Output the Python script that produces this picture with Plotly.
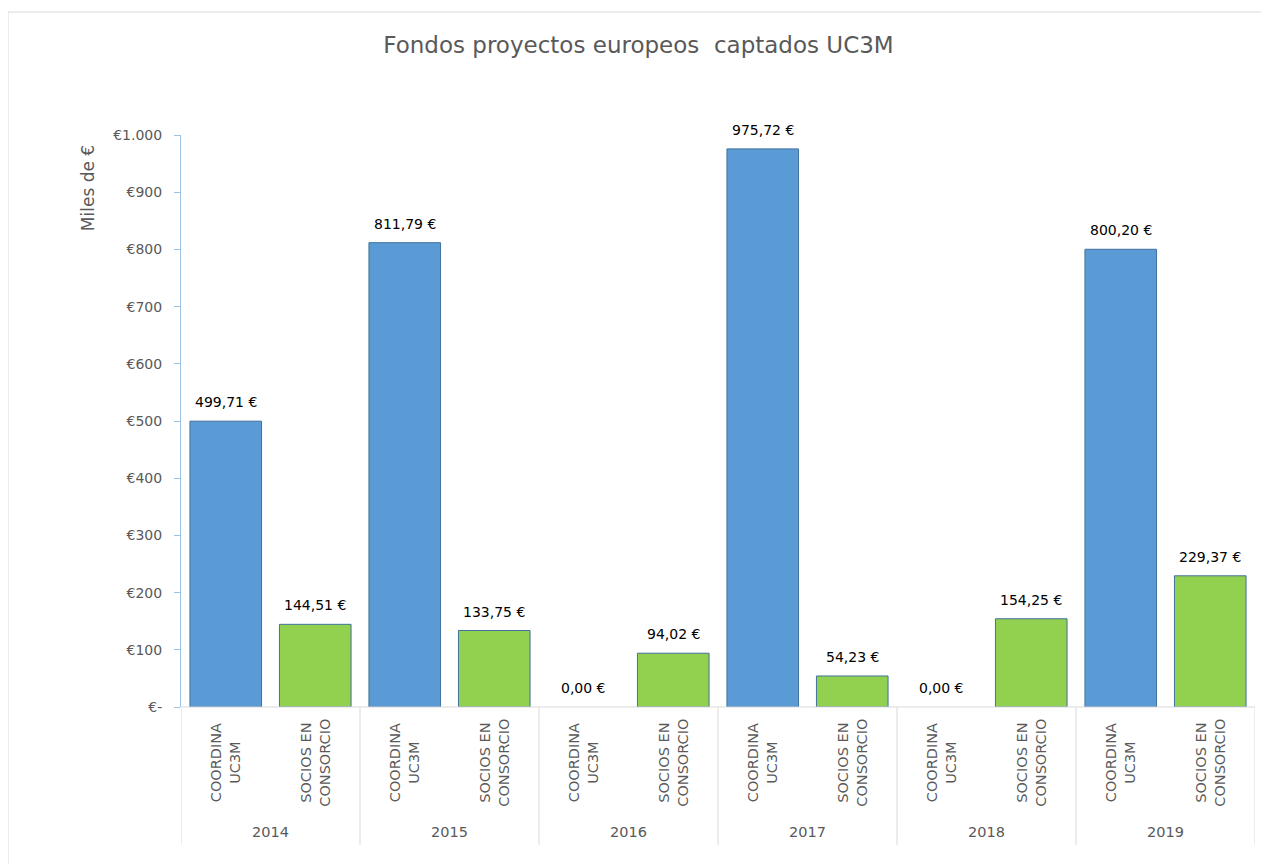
import plotly.graph_objects as go

years = ["2014", "2015", "2016", "2017", "2018", "2019"]
types = ["COORDINA<br>UC3M", "SOCIOS EN<br>CONSORCIO"]
coordina = [499.71, 811.79, 0.00, 975.72, 0.00, 800.20]
socios = [144.51, 133.75, 94.02, 54.23, 154.25, 229.37]
ytick_vals = [0, 100, 200, 300, 400, 500, 600, 700, 800, 900, 1000]
ytick_text = ["€-", "€100", "€200", "€300", "€400", "€500", "€600", "€700", "€800", "€900", "€1.000"]

BLUE = "#5B9BD5"
GREEN = "#92D050"
EDGE = "#41719C"
GRAY = "#595959"
LINE = "#D9D9D9"
FONT = "DejaVu Sans"

cats, vals, cols, lw = [], [], [], []
for i, y in enumerate(years):
    for j, t in enumerate(types):
        v = coordina[i] if j == 0 else socios[i]
        cats.append(f"{y}|{j}")
        vals.append(v)
        cols.append(BLUE if j == 0 else GREEN)
        lw.append(1 if v > 0 else 0)

fig = go.Figure(go.Bar(
    x=cats, y=vals,
    marker=dict(color=cols, line=dict(color=EDGE, width=lw)),
    hoverinfo="skip",
))

annotations = []
for c, v in zip(cats, vals):
    annotations.append(dict(
        x=c, xref="x", y=v, yref="y", text=f"{v:.2f}".replace(".", ",") + " €",
        showarrow=False, xanchor="center", yanchor="bottom", yshift=9,
        font=dict(family=FONT, size=14, color="#000000"),
    ))
for k, c in enumerate(cats):
    j = k % 2
    annotations.append(dict(
        x=c, xref="x", y=-0.097, yref="paper", text=types[j], showarrow=False,
        textangle=-90, align="center", xanchor="center", yanchor="middle",
        font=dict(family=FONT, size=14.5, color=GRAY),
    ))
for i, y in enumerate(years):
    annotations.append(dict(
        x=2 * i + 0.5, xref="x", y=-0.2185, yref="paper", text=y, showarrow=False,
        xanchor="center", yanchor="middle",
        font=dict(family=FONT, size=14.5, color=GRAY),
    ))
annotations.append(dict(
    x=-0.0866, xref="paper", y=0.907, yref="paper", text="Miles de €", showarrow=False,
    textangle=-90, xanchor="center", yanchor="middle",
    font=dict(family=FONT, size=17, color=GRAY),
))

shapes = []
for i in range(len(years) + 1):
    shapes.append(dict(
        type="line", xref="x", yref="paper", x0=2 * i - 0.5, x1=2 * i - 0.5,
        y0=0, y1=-0.241, line=dict(color=LINE, width=1),
    ))
shapes.append(dict(
    type="line", xref="paper", yref="paper", x0=0, x1=1, y0=0, y1=0,
    line=dict(color=LINE, width=1),
))
shapes.append(dict(
    type="rect", xref="paper", yref="paper", x0=-0.1611, x1=1.03, y0=-0.35, y1=1.215,
    line=dict(color=LINE, width=1), layer="below",
))

W, H = 1261, 856
fig.update_layout(
    width=W, height=H,
    margin=dict(l=173, r=14, t=127, b=157),
    paper_bgcolor="white", plot_bgcolor="white",
    bargap=0.2,
    showlegend=False,
    title=dict(text="Fondos proyectos europeos  captados UC3M", x=0.5, xanchor="center",
               y=1 - 37 / H, yanchor="middle",
               font=dict(family=FONT, size=23, color=GRAY)),
    xaxis=dict(type="category", range=[-0.5, 11.5], showticklabels=False,
               showline=False, showgrid=False, zeroline=False, ticks=""),
    yaxis=dict(range=[0, 1000], tickvals=ytick_vals, ticktext=ytick_text,
               showgrid=False, zeroline=False, showline=True, linecolor="#9DC3E6",
               linewidth=1, ticks="outside", ticklen=6, tickcolor="#9DC3E6",
               ticklabelstandoff=9,
               tickfont=dict(family=FONT, size=14, color=GRAY)),
    annotations=annotations,
    shapes=shapes,
)

fig.write_html("out.html")
